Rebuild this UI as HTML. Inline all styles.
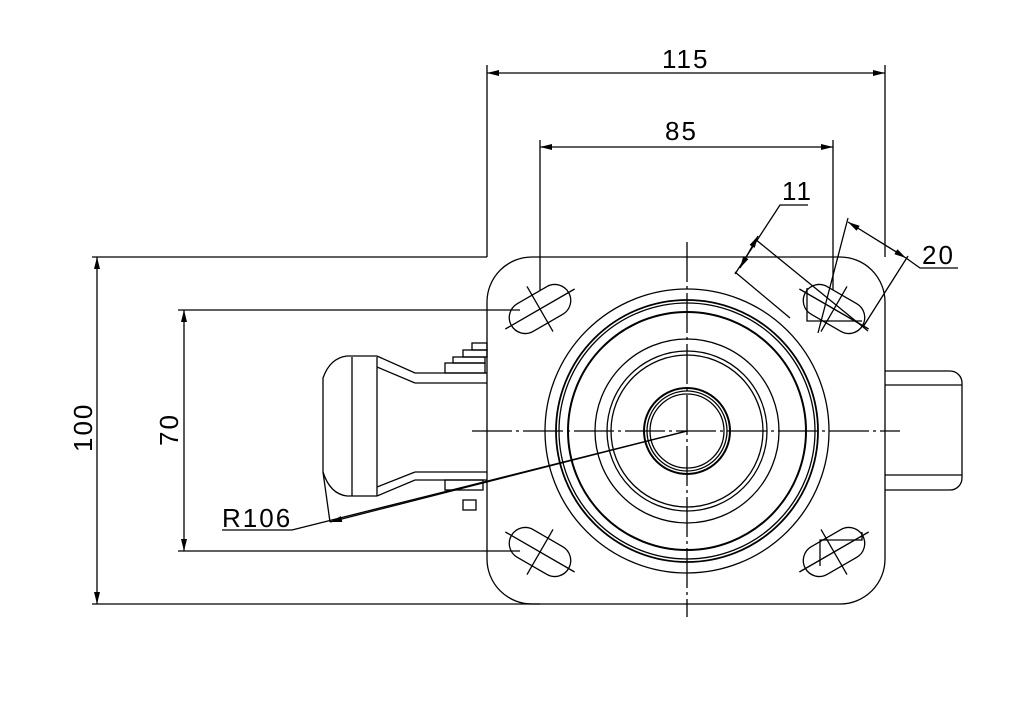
<!DOCTYPE html>
<html><head><meta charset="utf-8"><style>
html,body{margin:0;padding:0;background:#fff;}
svg{display:block;}
text{font-family:"Liberation Sans",sans-serif;font-size:26px;fill:#000;letter-spacing:2px;}
</style></head><body>
<svg width="1025" height="711" viewBox="0 0 1025 711" xmlns="http://www.w3.org/2000/svg">
<defs>
<marker id="a" viewBox="0 0 12 6" refX="12" refY="3" markerWidth="12" markerHeight="6" orient="auto-start-reverse" markerUnits="userSpaceOnUse"><path d="M0,0 L12,3 L0,6 z" fill="#000"/></marker>
</defs>
<g fill="none" stroke="#000" stroke-width="1.3">
<path d="M532,257 H840 A45,45 0 0 1 885,302 V559 A45,45 0 0 1 840,604 H532 A45,45 0 0 1 487,559 V302 A45,45 0 0 1 532,257 Z"/>
<g transform="translate(540,309) rotate(-30)"><rect x="-33" y="-16" width="66" height="32" rx="16"/><line x1="-40" y1="0" x2="40" y2="0"/><line x1="0" y1="-26" x2="0" y2="26"/></g>
<g transform="translate(540,552) rotate(30)"><rect x="-33" y="-16" width="66" height="32" rx="16"/><line x1="-40" y1="0" x2="40" y2="0"/><line x1="0" y1="-26" x2="0" y2="26"/></g>
<g transform="translate(834,309) rotate(30)"><rect x="-33" y="-16" width="66" height="32" rx="16"/><line x1="-40" y1="0" x2="40" y2="0"/><line x1="0" y1="-26" x2="0" y2="26"/></g>
<g transform="translate(834,552) rotate(-30)"><rect x="-33" y="-16" width="66" height="32" rx="16"/><line x1="-40" y1="0" x2="40" y2="0"/><line x1="0" y1="-26" x2="0" y2="26"/></g>
<path d="M807,288 V321 H862 M820,566 V540 H862 V532"/>
<circle cx="687" cy="431" r="142"/>
<circle cx="687" cy="431" r="131" stroke-width="1.8"/>
<circle cx="687" cy="431" r="128"/>
<circle cx="687" cy="431" r="119" stroke-width="2"/>
<circle cx="687" cy="431" r="92"/>
<circle cx="687" cy="431" r="80"/>
<circle cx="687" cy="431" r="76"/>
<circle cx="687" cy="431" r="43" stroke-width="2"/>
<circle cx="687" cy="431" r="40"/>
<circle cx="687" cy="431" r="37"/>
<line x1="687" y1="242" x2="687" y2="617" stroke-dasharray="40,4,3,4"/>
<line x1="472" y1="431" x2="900" y2="431" stroke-dasharray="40,4,3,4"/>
<path d="M885,371 H950 A12,12 0 0 1 962,383 V478 A12,12 0 0 1 950,490 H885"/>
<line x1="885" y1="385" x2="962" y2="385"/><line x1="885" y1="475" x2="962" y2="475"/>
<path d="M347,356 H377 L415,373 H487 M415,383 H487 M377,367 L415,383"/>
<path d="M347,496 H377 L415,480 H487 M415,472 H487 M377,487 L415,472"/>
<path d="M347,356 Q330,358 323,378 V472 Q330,494 347,496"/>
<line x1="352" y1="357" x2="352" y2="496"/><line x1="377" y1="357" x2="377" y2="496"/>
<rect x="472" y="343" width="15" height="7"/><rect x="463" y="350" width="24" height="7"/><rect x="453" y="357" width="32" height="6"/><rect x="445" y="363" width="40" height="10"/>
<rect x="445" y="480" width="38" height="10"/><rect x="463" y="500" width="13" height="10"/>
<line x1="487" y1="65" x2="487" y2="257"/><line x1="885" y1="65" x2="885" y2="257"/>
<line x1="487" y1="73" x2="885" y2="73" marker-start="url(#a)" marker-end="url(#a)"/>
<line x1="540" y1="140" x2="540" y2="290"/><line x1="833" y1="140" x2="833" y2="290"/>
<line x1="540" y1="147" x2="833" y2="147" marker-start="url(#a)" marker-end="url(#a)"/>
<line x1="92" y1="257" x2="487" y2="257"/><line x1="92" y1="604" x2="540" y2="604"/>
<line x1="97" y1="257" x2="97" y2="604" marker-start="url(#a)" marker-end="url(#a)"/>
<line x1="178" y1="310" x2="520" y2="310"/><line x1="178" y1="551" x2="520" y2="551"/>
<line x1="184" y1="310" x2="184" y2="551" marker-start="url(#a)" marker-end="url(#a)"/>
<path d="M222,530 H292 L687,431"/>
<line x1="687" y1="431" x2="330" y2="522" marker-end="url(#a)"/>
<line x1="330" y1="522" x2="323" y2="472"/>
<path d="M808,205 H780 L735,274"/>
<line x1="755" y1="239" x2="868" y2="331"/><line x1="735" y1="272" x2="790" y2="318"/>
<line x1="758" y1="236" x2="740" y2="268" marker-start="url(#a)" marker-end="url(#a)"/>
<line x1="848" y1="218" x2="818" y2="333"/><line x1="908" y1="256" x2="863" y2="327"/>
<line x1="848" y1="222" x2="906" y2="258" marker-start="url(#a)" marker-end="url(#a)"/>
<path d="M906,258 L920,268 H958"/>
</g>
<text x="662" y="68">115</text>
<text x="665" y="140">85</text>
<text x="782" y="200">11</text>
<text x="922" y="264">20</text>
<text x="222" y="527">R106</text>
<text transform="translate(92,452) rotate(-90)">100</text>
<text transform="translate(178,446) rotate(-90)">70</text>
</svg>
</body></html>
